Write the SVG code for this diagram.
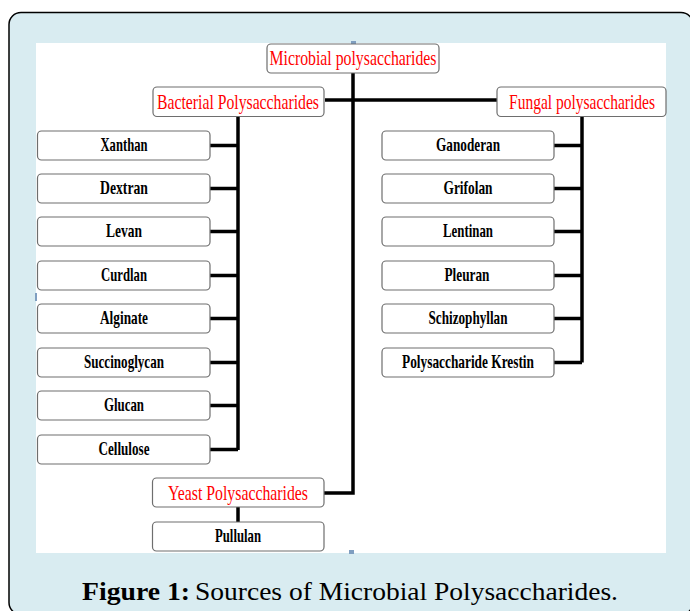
<svg xmlns="http://www.w3.org/2000/svg" width="690" height="611" viewBox="0 0 690 611">
<style>
.box{fill:#fff;stroke:#6e6e6e;stroke-width:1.2}
.t{font-family:"Liberation Serif","Times New Roman",serif;font-weight:bold;font-size:19px;fill:#000;text-anchor:middle}
.r{font-family:"Liberation Serif","Times New Roman",serif;font-size:22px;fill:#ff0000;text-anchor:middle}
.c{fill:none;stroke:#000;stroke-width:3.5}
.cap{font-family:"Liberation Serif","DejaVu Serif",serif;font-size:25px;fill:#000}
</style>
<rect x="9" y="12.5" width="684" height="602" rx="12" fill="#d9ecf1" stroke="#000" stroke-width="1.5"/>
<rect x="36" y="43" width="630" height="510" fill="#fff"/>
<rect x="351" y="41" width="5" height="3" fill="#7f9ec0"/>
<rect x="349" y="550" width="5" height="4" fill="#7f9ec0"/>
<rect x="35" y="293" width="2" height="8" fill="#7f9ec0"/>
<g id="connectors">
<path class="c" d="M353 73V493H324"/>
<path class="c" d="M325 100H497" stroke-width="5"/>
<path class="c" d="M238 117V450"/>
<path class="c" d="M210 145.5H238M210 188.5H238M210 231.5H238M210 275.5H238M210 318.5H238M210 362.5H238M210 405.5H238M210 449.5H238"/>
<path class="c" d="M582 117V362.5"/>
<path class="c" d="M554 145.5H582M554 188.5H582M554 231.5H582M554 275.5H582M554 318.5H582M554 362.5H582"/>
<path class="c" d="M238 507V522"/>
</g>
<g id="microbial"><rect class="box" x="267" y="44" width="172" height="29" rx="4"/><text class="r" x="353" y="64.5" textLength="167" lengthAdjust="spacingAndGlyphs">Microbial polysaccharides</text></g>
<g id="bacterial"><rect class="box" x="153" y="87" width="171" height="29.5" rx="4"/><text class="r" x="238" y="108.5" textLength="162" lengthAdjust="spacingAndGlyphs">Bacterial Polysaccharides</text></g>
<g id="fungal"><rect class="box" x="497" y="87" width="169" height="29.5" rx="4"/><text class="r" x="582" y="108.5" textLength="146" lengthAdjust="spacingAndGlyphs">Fungal polysaccharides</text></g>
<g id="xanthan"><rect class="box" x="37.5" y="131" width="172.5" height="29" rx="4"/><text class="t" x="124" y="150.5" textLength="47" lengthAdjust="spacingAndGlyphs">Xanthan</text></g>
<g id="dextran"><rect class="box" x="37.5" y="174" width="172.5" height="29" rx="4"/><text class="t" x="124" y="193.5" textLength="48" lengthAdjust="spacingAndGlyphs">Dextran</text></g>
<g id="levan"><rect class="box" x="37.5" y="217" width="172.5" height="29" rx="4"/><text class="t" x="124" y="236.5" textLength="36" lengthAdjust="spacingAndGlyphs">Levan</text></g>
<g id="curdlan"><rect class="box" x="37.5" y="261" width="172.5" height="29" rx="4"/><text class="t" x="124" y="280.5" textLength="46" lengthAdjust="spacingAndGlyphs">Curdlan</text></g>
<g id="alginate"><rect class="box" x="37.5" y="304" width="172.5" height="29" rx="4"/><text class="t" x="124" y="323.5" textLength="48" lengthAdjust="spacingAndGlyphs">Alginate</text></g>
<g id="succinoglycan"><rect class="box" x="37.5" y="348" width="172.5" height="29" rx="4"/><text class="t" x="124" y="367.5" textLength="80" lengthAdjust="spacingAndGlyphs">Succinoglycan</text></g>
<g id="glucan"><rect class="box" x="37.5" y="391" width="172.5" height="29" rx="4"/><text class="t" x="124" y="410.5" textLength="40" lengthAdjust="spacingAndGlyphs">Glucan</text></g>
<g id="cellulose"><rect class="box" x="37.5" y="435" width="172.5" height="29" rx="4"/><text class="t" x="124" y="454.5" textLength="51" lengthAdjust="spacingAndGlyphs">Cellulose</text></g>
<g id="ganoderan"><rect class="box" x="382" y="131" width="172" height="29" rx="4"/><text class="t" x="468" y="150.5" textLength="64" lengthAdjust="spacingAndGlyphs">Ganoderan</text></g>
<g id="grifolan"><rect class="box" x="382" y="174" width="172" height="29" rx="4"/><text class="t" x="468" y="193.5" textLength="49" lengthAdjust="spacingAndGlyphs">Grifolan</text></g>
<g id="lentinan"><rect class="box" x="382" y="217" width="172" height="29" rx="4"/><text class="t" x="468" y="236.5" textLength="50" lengthAdjust="spacingAndGlyphs">Lentinan</text></g>
<g id="pleuran"><rect class="box" x="382" y="261" width="172" height="29" rx="4"/><text class="t" x="467" y="280.5" textLength="45" lengthAdjust="spacingAndGlyphs">Pleuran</text></g>
<g id="schizophyllan"><rect class="box" x="382" y="304" width="172" height="29" rx="4"/><text class="t" x="468" y="323.5" textLength="79" lengthAdjust="spacingAndGlyphs">Schizophyllan</text></g>
<g id="krestin"><rect class="box" x="382" y="348" width="172" height="29" rx="4"/><text class="t" x="468" y="367.5" textLength="132" lengthAdjust="spacingAndGlyphs">Polysaccharide Krestin</text></g>
<g id="yeast"><rect class="box" x="152.5" y="478" width="171.5" height="29" rx="4"/><text class="r" x="238" y="499.5" textLength="140" lengthAdjust="spacingAndGlyphs">Yeast Polysaccharides</text></g>
<g id="pullulan"><rect class="box" x="152.5" y="522" width="171.5" height="29" rx="4"/><text class="t" x="238" y="541.5" textLength="46" lengthAdjust="spacingAndGlyphs">Pullulan</text></g>
<text class="cap" x="82" y="600" font-weight="bold" textLength="108" lengthAdjust="spacingAndGlyphs">Figure 1:</text>
<text class="cap" x="195" y="600" textLength="423" lengthAdjust="spacingAndGlyphs">Sources of Microbial Polysaccharides.</text>
</svg>
